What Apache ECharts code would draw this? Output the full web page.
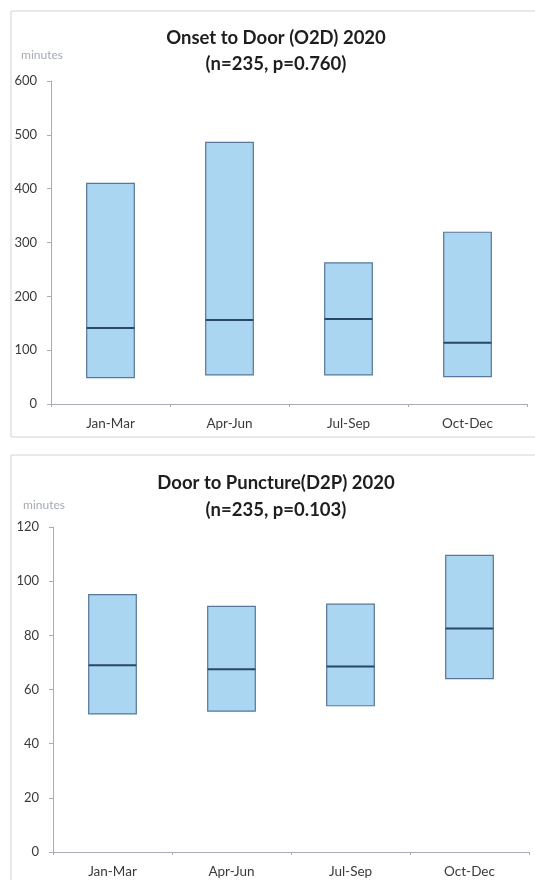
<!DOCTYPE html>
<html>
<head>
<meta charset="utf-8">
<script src="https://cdn.jsdelivr.net/npm/echarts@6/dist/echarts.min.js"></script>
<style>
html,body{margin:0;padding:0;background:#fff;}
#main{width:535px;height:880px;}
</style>
</head>
<body>
<div id="main"></div>
<script>
// quarters
var categories = ['Jan-Mar', 'Apr-Jun', 'Jul-Sep', 'Oct-Dec'];

// onset to door (minutes): box low / median / high
var o2dLow = [49, 54, 54, 51];
var o2dMedian = [141, 156, 158, 114];
var o2dHigh = [410, 486, 262, 319];

// door to puncture (minutes)
var d2pLow = [51, 52, 54, 64];
var d2pMedian = [69, 67.5, 68.5, 82.5];
var d2pHigh = [95, 90.7, 91.5, 109.5];

var o2dTicks = [0, 100, 200, 300, 400, 500, 600];
var d2pTicks = [0, 20, 40, 60, 80, 100, 120];

var font = 'Lato, "Open Sans", sans-serif';

function boxData(low, med, high){
    var out = [];
    for(var i=0;i<categories.length;i++){
        out.push([i, low[i], med[i], high[i]]);
    }
    return out;
}

// draw one box with its median line
function renderBox(params, api){
    var idx = api.value(0);
    var lowPt = api.coord([idx, api.value(1)]);
    var medPt = api.coord([idx, api.value(2)]);
    var highPt = api.coord([idx, api.value(3)]);
    var w = api.size([1, 0])[0] * 0.4;
    var x = lowPt[0] - w / 2;
    return {
        type: 'group',
        children: [
            {
                type: 'rect',
                shape: {x: x, y: highPt[1], width: w, height: lowPt[1] - highPt[1]},
                style: {fill: '#abd6f1', stroke: '#56779a', lineWidth: 1.2}
            },
            {
                type: 'line',
                shape: {x1: x, y1: medPt[1], x2: x + w, y2: medPt[1]},
                style: {stroke: '#27476a', lineWidth: 2}
            }
        ]
    };
}

function xAxisCfg(gridIndex){
    return {
        type: 'category',
        gridIndex: gridIndex,
        data: categories,
        axisLine: {lineStyle: {color: '#a8adb5', width: 1}},
        axisTick: {show: true, length: 3, lineStyle: {color: '#a8adb5'}},
        axisLabel: {color: '#3a3a3a', fontSize: 13.5, fontFamily: font, margin: 13},
        splitLine: {show: false}
    };
}

function yAxisCfg(gridIndex, ticks, gap){
    return {
        type: 'value',
        gridIndex: gridIndex,
        min: ticks[0],
        max: ticks[ticks.length - 1],
        interval: ticks[1] - ticks[0],
        name: 'minutes',
        nameGap: gap,
        nameTextStyle: {color: '#a3abb5', fontSize: 12, fontFamily: font, align: 'center', padding: [0, 18, 0, 0]},
        axisLine: {show: true, lineStyle: {color: '#a8adb5', width: 1}},
        axisTick: {show: true, length: 4, lineStyle: {color: '#a8adb5'}},
        axisLabel: {color: '#3a3a3a', fontSize: 13, fontFamily: font, margin: 14},
        splitLine: {show: false}
    };
}

var chart = echarts.init(document.getElementById('main'), null, {renderer: 'canvas'});

var option = {
    backgroundColor: '#ffffff',
    animation: false,
    graphic: [
        {type: 'rect', shape: {x: 11, y: 11, width: 540, height: 426}, style: {fill: 'none', stroke: '#cfd3d8', lineWidth: 1}, silent: true},
        {type: 'rect', shape: {x: 11, y: 455, width: 540, height: 440}, style: {fill: 'none', stroke: '#cfd3d8', lineWidth: 1}, silent: true}
    ],
    title: [
        {
            text: 'Onset to Door (O2D) 2020\n(n=235, p=0.760)',
            left: 271, top: 20, textAlign: 'center',
            textStyle: {fontFamily: font, fontSize: 18.5, fontWeight: 'bold', color: '#1e1e1e', lineHeight: 26}
        },
        {
            text: 'Door to Puncture(D2P) 2020\n(n=235, p=0.103)',
            left: 271, top: 465, textAlign: 'center',
            textStyle: {fontFamily: font, fontSize: 18.5, fontWeight: 'bold', color: '#1e1e1e', lineHeight: 27}
        }
    ],
    grid: [
        {left: 51, right: 8, top: 81, height: 323},
        {left: 53, right: 6, top: 527, height: 325}
    ],
    xAxis: [xAxisCfg(0), xAxisCfg(1)],
    yAxis: [yAxisCfg(0, o2dTicks, 20), yAxisCfg(1, d2pTicks, 16)],
    series: [
        {
            type: 'custom',
            xAxisIndex: 0, yAxisIndex: 0,
            renderItem: renderBox,
            encode: {x: 0, y: [1, 2, 3]},
            data: boxData(o2dLow, o2dMedian, o2dHigh)
        },
        {
            type: 'custom',
            xAxisIndex: 1, yAxisIndex: 1,
            renderItem: renderBox,
            encode: {x: 0, y: [1, 2, 3]},
            data: boxData(d2pLow, d2pMedian, d2pHigh)
        }
    ]
};

chart.setOption(option);
</script>
</body>
</html>
